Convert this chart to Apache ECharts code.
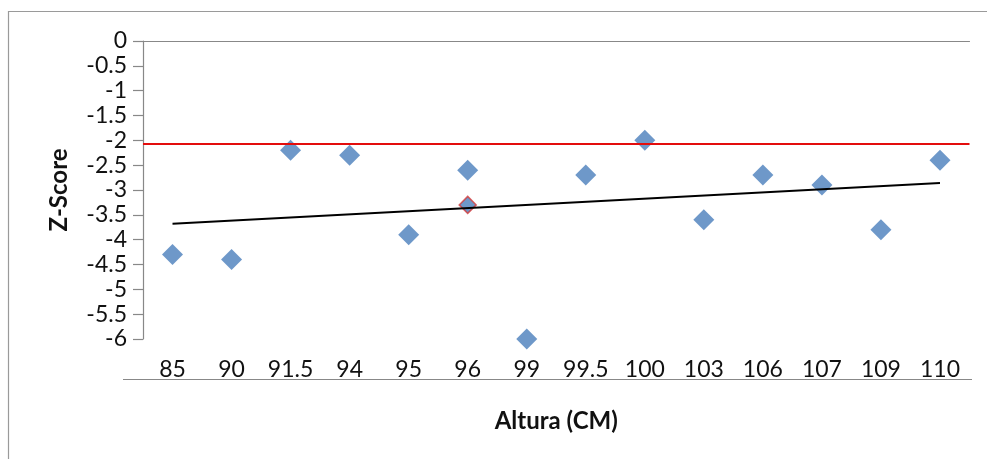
<!DOCTYPE html>
<html>
<head>
<meta charset="utf-8">
<script src="https://cdn.jsdelivr.net/npm/echarts@6/dist/echarts.min.js"></script>
<style>
  html, body { margin: 0; padding: 0; background: #fff; }
  #chart { width: 987px; height: 459px; }
</style>
</head>
<body>
<div id="chart"></div>
<script>
// alturas (categorias) e z-scores
var alturas = ["85", "90", "91.5", "94", "95", "96", "99", "99.5", "100", "103", "106", "107", "109", "110"];
var zScores = [-4.3, -4.4, -2.2, -2.3, -3.9, -2.6, -6.0, -2.7, -2.0, -3.6, -2.7, -2.9, -3.8, -2.4];
var destaque = [["96", -3.3]];               // ponto com contorno vermelho
var tendencia = [["85", -3.68], ["110", -2.86]]; // linha de tendência linear
var limite = -2.06;                           // linha vermelha
var yTicks = { min: -6, max: 0, interval: 0.5 };

var chart = echarts.init(document.getElementById("chart"));
var font = "Lato, 'Open Sans', sans-serif";

var option = {
  animation: false,
  backgroundColor: "#fff",
  graphic: [
    {
      type: "rect",
      shape: { x: 8.5, y: 11.5, width: 1000, height: 500 },
      style: { fill: "none", stroke: "#9a9a9a", lineWidth: 1.2 },
    },
    {
      type: "line",
      shape: { x1: 123, y1: 379.5, x2: 972, y2: 379.5 },
      style: { stroke: "#888", lineWidth: 1.2 },
      z: 1,
    },
  ],
  grid: { left: 143, right: 17.5, top: 41, height: 298, containLabel: false },
  xAxis: [
    {
      type: "category",
      data: alturas,
      boundaryGap: true,
      position: "bottom",
      axisLine: { show: false },
      axisTick: { show: false },
      axisLabel: { interval: 0, hideOverlap: false, margin: 19, fontSize: 23, color: "#111", fontFamily: font },
      name: "Altura (CM)",
      nameLocation: "middle",
      nameGap: 70,
      nameTextStyle: { fontSize: 24, fontWeight: "bold", color: "#111", fontFamily: font },
      z: 5,
    },
    {
      type: "category",
      data: alturas,
      position: "top",
      axisLine: { show: true, lineStyle: { color: "#888", width: 1.2 } },
      axisTick: { show: false },
      axisLabel: { show: false },
    },
  ],
  yAxis: {
    type: "value",
    min: yTicks.min,
    max: yTicks.max,
    interval: yTicks.interval,
    axisLine: { show: true, lineStyle: { color: "#888", width: 1.2 } },
    axisTick: { show: true, inside: false, length: 10, lineStyle: { color: "#888", width: 1.2 } },
    splitLine: { show: false },
    axisLabel: { margin: 16, fontSize: 23, color: "#111", fontFamily: font },
    name: "Z-Score",
    nameLocation: "middle",
    nameGap: 72,
    nameTextStyle: { fontSize: 24, fontWeight: "bold", color: "#111", fontFamily: font },
  },
  series: [
    {
      name: "Z-Score",
      type: "scatter",
      data: zScores,
      symbol: "diamond",
      symbolSize: [21, 21],
      itemStyle: { color: "#4a7ebb" },
      markLine: {
        silent: true,
        symbol: "none",
        label: { show: false },
        lineStyle: { color: "#e30d0d", width: 2.2, type: "solid" },
        data: [{ yAxis: limite }],
      },
      z: 3,
    },
    {
      name: "destaque",
      type: "scatter",
      data: destaque,
      symbol: "diamond",
      symbolSize: [17, 17],
      itemStyle: { color: "#4a7ebb", borderColor: "#d23a3a", borderWidth: 1.5 },
      z: 4,
    },
    {
      name: "tendência",
      type: "line",
      data: tendencia,
      symbol: "none",
      lineStyle: { color: "#000", width: 2 },
      z: 5,
    },
  ],
};
chart.setOption(option);
</script>
</body>
</html>
